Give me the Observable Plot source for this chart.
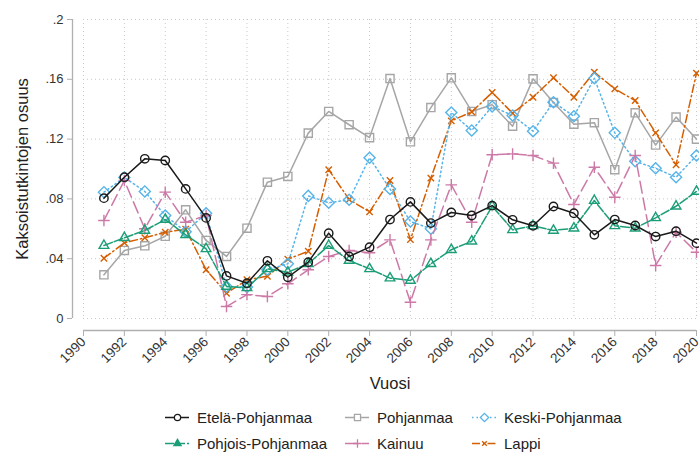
<!DOCTYPE html>
<html>
<head>
<meta charset="utf-8">
<script src="https://cdn.jsdelivr.net/npm/d3@7"></script>
<script src="https://cdn.jsdelivr.net/npm/@observablehq/plot@0.6"></script>
<style>
  html, body { margin: 0; padding: 0; background: #fff; }
  #wrap { position: relative; width: 699px; height: 454px; font-family: "Liberation Sans", Arial, sans-serif; }
  #legend { position: absolute; left: 0; top: 404px; width: 699px; font-size: 15px; color: #222; }
  .item { position: absolute; display: flex; align-items: center; height: 26px; }
  .item svg { margin-right: 8px; }
</style>
</head>
<body>
<div id="wrap"><div id="chart"></div><div id="legend"></div></div>
<script>
const years = [1991,1992,1993,1994,1995,1996,1997,1998,1999,2000,2001,2002,2003,2004,2005,2006,2007,2008,2009,2010,2011,2012,2013,2014,2015,2016,2017,2018,2019,2020];
const xTicks = [1990,1992,1994,1996,1998,2000,2002,2004,2006,2008,2010,2012,2014,2016,2018,2020];
const yTicks = [0, 0.04, 0.08, 0.12, 0.16, 0.2];

const etela = [0.0805,0.0945,0.1068,0.1057,0.0867,0.0673,0.0285,0.0236,0.0386,0.0276,0.0377,0.0571,0.0415,0.0477,0.0662,0.078,0.0638,0.0709,0.0689,0.0755,0.066,0.062,0.0749,0.0704,0.056,0.0662,0.0622,0.0548,0.0584,0.0504];
const pohjanmaa = [0.0292,0.0455,0.0486,0.055,0.0727,0.0522,0.0415,0.0604,0.0912,0.095,0.124,0.1385,0.1296,0.121,0.1605,0.1182,0.1411,0.161,0.1385,0.143,0.1286,0.1603,0.1445,0.130,0.131,0.0995,0.1376,0.116,0.1347,0.12];
const keski = [0.0845,0.0943,0.085,0.0689,0.058,0.0704,0.0214,0.021,0.0326,0.0366,0.082,0.0774,0.0794,0.1075,0.0867,0.0649,0.06,0.1378,0.1258,0.1418,0.1358,0.1253,0.1447,0.1353,0.1607,0.1242,0.1052,0.1005,0.0945,0.109];
const pohjois = [0.0488,0.054,0.0589,0.0662,0.056,0.0466,0.0214,0.0205,0.0332,0.031,0.0366,0.0488,0.0388,0.0332,0.027,0.0254,0.0366,0.046,0.0517,0.0751,0.0593,0.062,0.0589,0.0604,0.0789,0.062,0.0604,0.0673,0.0751,0.085];
const kainuu = [0.0656,0.0923,0.06,0.0845,0.0644,0.0689,0.008,0.016,0.0147,0.0232,0.0326,0.0415,0.0455,0.044,0.0526,0.0109,0.0526,0.0894,0.0644,0.1095,0.1101,0.109,0.1039,0.0763,0.1012,0.0811,0.109,0.0355,0.0577,0.0443];
const lappi = [0.0403,0.0506,0.054,0.0577,0.0597,0.0326,0.0169,0.0259,0.0283,0.0397,0.045,0.0995,0.0796,0.0713,0.0923,0.0528,0.0939,0.1322,0.1382,0.1512,0.1373,0.148,0.161,0.148,0.1648,0.1536,0.1458,0.1242,0.1028,0.1641];

const seriesNames = ["Etelä-Pohjanmaa","Pohjanmaa","Keski-Pohjanmaa","Pohjois-Pohjanmaa","Kainuu","Lappi"];
const seriesValues = [etela, pohjanmaa, keski, pohjois, kainuu, lappi];
const styles = [
  {color:"#1a1a1a", dash:null, symbol:"circle", r:4.2},
  {color:"#a6a6a6", dash:null, symbol:"square", r:4.6},
  {color:"#56B4E9", dash:"1.5,3", symbol:"diamond2", r:5},
  {color:"#1b9e77", dash:"9,2", symbol:"triangle2", r:4.6},
  {color:"#CC79A7", dash:"12,5", symbol:"plus", r:3.8},
  {color:"#D55E00", dash:"8,3,1.5,3", symbol:"times", r:3}
];
const drawOrder = [1, 5, 2, 4, 3, 0];

const tables = seriesValues.map(vals => years.map((yr, i) => ({year: yr, value: vals[i]})));

const marks = [
  Plot.gridX(xTicks, {stroke:"#c8c8c8", strokeOpacity:1, strokeDasharray:"1,3"}),
  Plot.gridY(yTicks, {stroke:"#c8c8c8", strokeOpacity:1, strokeDasharray:"1,3"}),
  Plot.ruleX([1990], {dx:-11, stroke:"#b0b0b0", strokeWidth:1.3}),
  Plot.ruleY([0], {dy:12, stroke:"#b0b0b0", strokeWidth:1.3}),
  Plot.axisY({ticks: yTicks, tickFormat: d => d === 0 ? "0" : d3.format(".2~f")(d).replace(/^0/, ""), dx:-11, tickSize:5, tickPadding:4, fontSize:13, stroke:"#b0b0b0", color:"#333", label:null}),
  Plot.axisX({ticks: xTicks, tickFormat: d => String(d), tickRotate:-45, dy:12, tickSize:6, tickPadding:3, fontSize:13.5, stroke:"#b0b0b0", color:"#333", label:null})
];
for (const k of drawOrder) {
  const s = styles[k];
  marks.push(Plot.line(tables[k], {x:"year", y:"value", stroke:s.color, strokeWidth:1.5, strokeDasharray:s.dash, strokeLinejoin:"round"}));
  marks.push(Plot.dot(tables[k], {x:"year", y:"value", symbol:s.symbol, r:s.r, stroke:s.color, strokeWidth:1.4, fill:"none"}));
}
marks.push(Plot.text(["Vuosi"], {frameAnchor:"bottom", textAnchor:"middle", lineAnchor:"middle", dy:65, fontSize:16.5, fill:"#222"}));
marks.push(Plot.text(["Kaksoistutkintojen osuus"], {frameAnchor:"left", textAnchor:"middle", lineAnchor:"middle", rotate:-90, dx:-61, fontSize:16.5, fill:"#222"}));

const chart = Plot.plot({
  width: 699,
  height: 400,
  marginLeft: 83,
  marginRight: 3,
  marginTop: 19,
  marginBottom: 82,
  style: {fontFamily: "'Liberation Sans', Arial, sans-serif", background: "#fff", overflow: "visible"},
  x: {domain: [1990, 2020]},
  y: {domain: [0, 0.2]},
  marks
});
document.getElementById("chart").appendChild(chart);

// legend
const legendPos = [[165, 0], [345, 0], [472, 0], [165, 1], [345, 1], [472, 1]];
const leg = document.getElementById("legend");
seriesNames.forEach((name, k) => {
  const s = styles[k];
  const [lx, row] = legendPos[k];
  const div = document.createElement("div");
  div.className = "item";
  div.style.left = lx + "px";
  div.style.top = (row * 26) + "px";
  const sw = Plot.plot({
    width: 24, height: 14, margin: 0,
    x: {domain: [0, 1], axis: null}, y: {domain: [0, 1], axis: null},
    marks: [
      Plot.ruleY([0.5], {stroke: s.color, strokeWidth: 1.5, strokeDasharray: s.dash}),
      Plot.dot([0.5], {x: d => d, y: 0.5, symbol: s.symbol, r: s.r * 0.75, stroke: s.color, strokeWidth: 1.3, fill: k === 3 ? s.color : "white"})
    ]
  });
  div.appendChild(sw);
  const t = document.createElement("span");
  t.textContent = name;
  div.appendChild(t);
  leg.appendChild(div);
});
</script>
</body>
</html>
